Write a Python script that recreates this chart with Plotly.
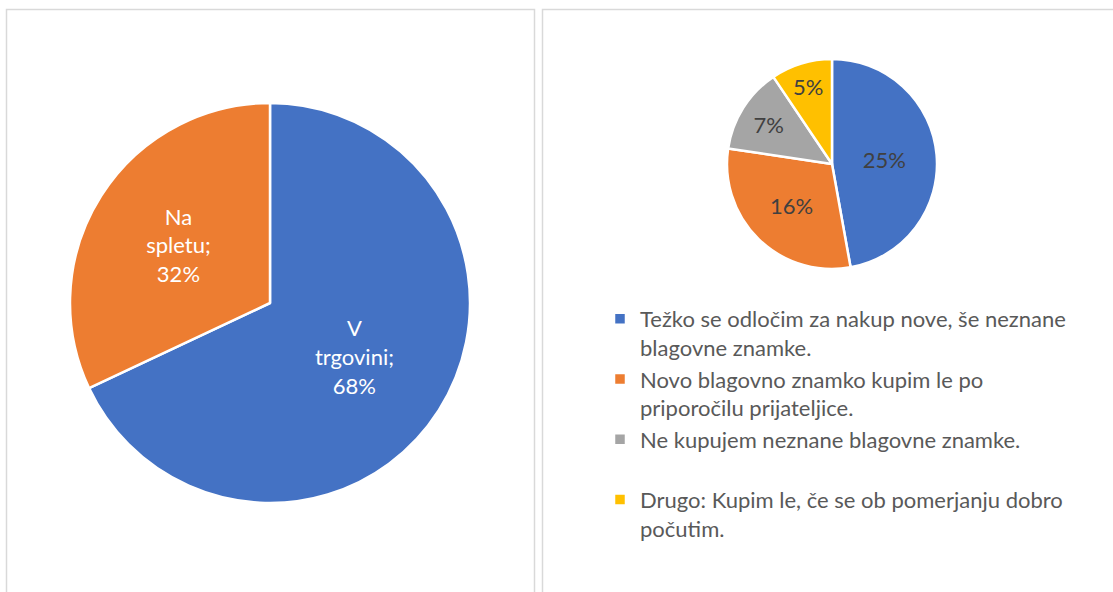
import plotly.graph_objects as go

W, H = 1113, 592

# Left pie data
left_labels = ["V trgovini", "Na spletu"]
left_values = [68, 32]
left_colors = ["#4472C4", "#ED7D31"]

# Right pie data
right_labels = [
    "Težko se odločim za nakup nove, še neznane<br>blagovne znamke.",
    "Novo blagovno znamko kupim le po<br>priporočilu prijateljice.",
    "Ne kupujem neznane blagovne znamke.<br> ",
    "Drugo: Kupim le, če se ob pomerjanju dobro<br>počutim.",
]
right_values = [25, 16, 7, 5]
right_colors = ["#4472C4", "#ED7D31", "#A5A5A5", "#FFC000"]

FONT = "Lato"

left_text = ["<br>".join(l.split(" ")[:-1] + [l.split(" ")[-1] + ";"]) + "<br>%d%%" % v
             for l, v in zip(left_labels, left_values)]

def px_dom_x(a, b):
    return [a / W, b / W]

def px_dom_y(top, bottom):
    return [1 - bottom / H, 1 - top / H]

fig = go.Figure()
fig.add_trace(go.Pie(
    labels=left_labels, values=left_values, text=left_text,
    texttemplate="%{text}", textposition="inside", insidetextorientation="horizontal",
    sort=False, direction="clockwise", rotation=0,
    marker=dict(colors=left_colors, line=dict(color="white", width=2.5)),
    textfont=dict(family=FONT, size=22, color="white"),
    domain=dict(x=px_dom_x(70, 470), y=px_dom_y(103, 503)),
    showlegend=False, hoverinfo="label+percent",
))
fig.add_trace(go.Pie(
    labels=right_labels, values=right_values,
    texttemplate="%{value}%", textposition="inside", insidetextorientation="horizontal",
    sort=False, direction="clockwise", rotation=0,
    marker=dict(colors=right_colors, line=dict(color="white", width=2.5)),
    textfont=dict(family=FONT, size=22, color="#404040"),
    domain=dict(x=px_dom_x(727, 937), y=px_dom_y(59, 269)),
    showlegend=True,
))

shapes = [
    dict(type="rect", xref="paper", yref="paper",
         x0=6.5 / W, x1=534.5 / W, y0=-0.05, y1=1 - 9.5 / H,
         line=dict(color="#D9D9D9", width=1.5)),
    dict(type="rect", xref="paper", yref="paper",
         x0=542.5 / W, x1=1.05, y0=-0.05, y1=1 - 9.5 / H,
         line=dict(color="#D9D9D9", width=1.5)),
]

fig.update_layout(
    width=W, height=H,
    margin=dict(l=0, r=0, t=0, b=0),
    paper_bgcolor="white", plot_bgcolor="white",
    shapes=shapes,
    legend=dict(
        x=600 / W, y=1 - 298 / H, xanchor="left", yanchor="top",
        font=dict(family=FONT, size=22, color="#595959"),
        bgcolor="rgba(0,0,0,0)",
        valign="top",
        tracegroupgap=0,
    ),
    font=dict(family=FONT),
)

fig.write_html(
    "out.html",
    config={"displayModeBar": False},
    post_script="document.body.style.margin='0';document.body.style.overflow='hidden';",
)
